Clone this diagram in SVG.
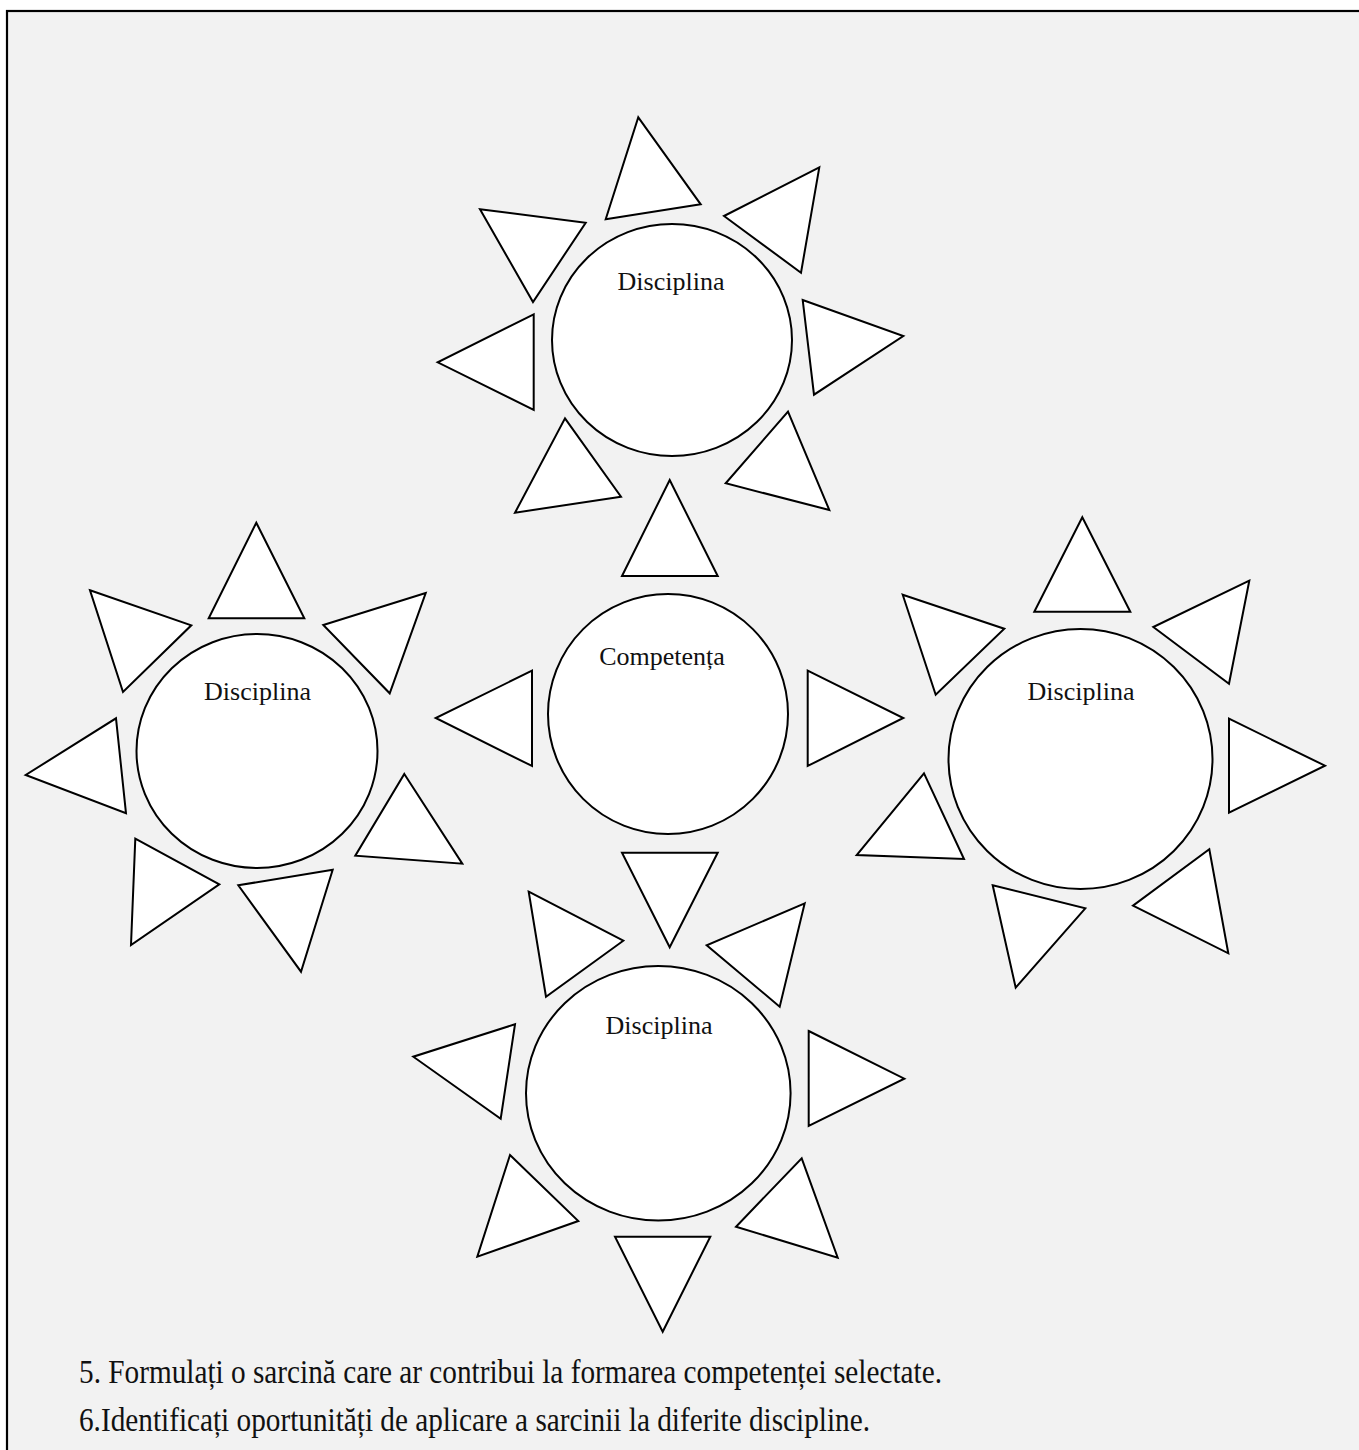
<svg xmlns="http://www.w3.org/2000/svg" width="1359" height="1450" viewBox="0 0 1359 1450">
<style>
.bg{fill:#f2f2f2;stroke:#000;stroke-width:2.2}
.c{fill:#fff;stroke:#000;stroke-width:2}
.t{fill:#fff;stroke:#000;stroke-width:2;stroke-linejoin:miter}
.lbl{font-family:"Liberation Serif","Times New Roman",serif;font-size:26px;fill:#111;text-anchor:middle}
.note{font-family:"Liberation Serif","Times New Roman",serif;font-size:34px;fill:#111}
</style>
<rect width="1359" height="1450" fill="#fff"/>
<rect class="bg" x="7" y="11" width="1362" height="1460"/>

<g id="sun-top">
<ellipse class="c" cx="672" cy="340" rx="120" ry="116"/>
<text class="lbl" x="671" y="290">Disciplina</text>
<polygon class="t" points="638.3,117.3 700.7,204.3 605.7,219.3"/>
<polygon class="t" points="819.3,167.3 724,216 801,272.7"/>
<polygon class="t" points="802.7,300 903.3,336 814,394.7"/>
<polygon class="t" points="788,411.7 829.3,510 725.7,483.3"/>
<polygon class="t" points="565,418.3 621,496.7 515,512.7"/>
<polygon class="t" points="533.7,314.3 437.7,362.3 533.7,410"/>
<polygon class="t" points="480,209.3 585.7,222.7 533,302"/>
</g>

<g id="sun-center">
<ellipse class="c" cx="668" cy="714" rx="120" ry="120"/>
<text class="lbl" x="662" y="665">Competența</text>
<polygon class="t" points="669.7,480 717.7,576 622,576"/>
<polygon class="t" points="532,670.7 435.7,718 532,766"/>
<polygon class="t" points="807.7,670.7 903.3,718 807.7,766"/>
<polygon class="t" points="622,852.7 717.7,852.7 669.7,947.3"/>
</g>

<g id="sun-left">
<ellipse class="c" cx="257" cy="751" rx="120.5" ry="117"/>
<text class="lbl" x="257.5" y="700">Disciplina</text>
<polygon class="t" points="256.3,522.7 304.3,618.3 208.7,618.3"/>
<polygon class="t" points="425.7,593 323.3,625 389.7,693.3"/>
<polygon class="t" points="404.3,774 462.3,863.7 355.3,855.7"/>
<polygon class="t" points="332.7,869.7 301,971.7 238.3,885.3"/>
<polygon class="t" points="135.3,838.7 219.3,884.3 131,945"/>
<polygon class="t" points="116,718.3 126,813.3 25.7,775"/>
<polygon class="t" points="90,590.3 191.3,625.3 123,692"/>
</g>

<g id="sun-right">
<ellipse class="c" cx="1080.5" cy="759" rx="132" ry="130"/>
<text class="lbl" x="1081" y="700">Disciplina</text>
<polygon class="t" points="1082.3,517.3 1130.3,611.7 1034.3,611.7"/>
<polygon class="t" points="1249.3,580.7 1153.3,627 1229,683.7"/>
<polygon class="t" points="1229,718.7 1325,765.7 1229,812.7"/>
<polygon class="t" points="1209.3,849.3 1228.3,953.3 1133,905.7"/>
<polygon class="t" points="992.7,885.3 1085.3,908.3 1015.7,987.7"/>
<polygon class="t" points="924,773.3 964,859 856.7,855"/>
<polygon class="t" points="902.7,594.7 1004.3,628.7 935.7,694.7"/>
</g>

<g id="sun-bottom">
<ellipse class="c" cx="658.3" cy="1093.3" rx="132.3" ry="127.3"/>
<text class="lbl" x="659" y="1034">Disciplina</text>
<polygon class="t" points="528.7,891.7 623.3,940.7 546,996.7"/>
<polygon class="t" points="804.7,903.3 706.7,945.3 779.7,1006.7"/>
<polygon class="t" points="808.7,1031 904.3,1078.7 808.7,1126"/>
<polygon class="t" points="801.7,1158.3 837.7,1257.7 736,1226.7"/>
<polygon class="t" points="615,1236.7 710.3,1236.7 662.7,1331.7"/>
<polygon class="t" points="510,1155 578.3,1221 477.3,1256.7"/>
<polygon class="t" points="515,1024.3 500.7,1118.7 413.3,1056.7"/>
</g>

<g id="notes">
<text class="note" x="79" y="1383" textLength="863" lengthAdjust="spacingAndGlyphs">5. Formulați o sarcină care ar contribui la formarea competenței selectate.</text>
<text class="note" x="79" y="1431" textLength="791" lengthAdjust="spacingAndGlyphs">6.Identificați oportunități de aplicare a sarcinii la diferite discipline.</text>
</g>
</svg>
